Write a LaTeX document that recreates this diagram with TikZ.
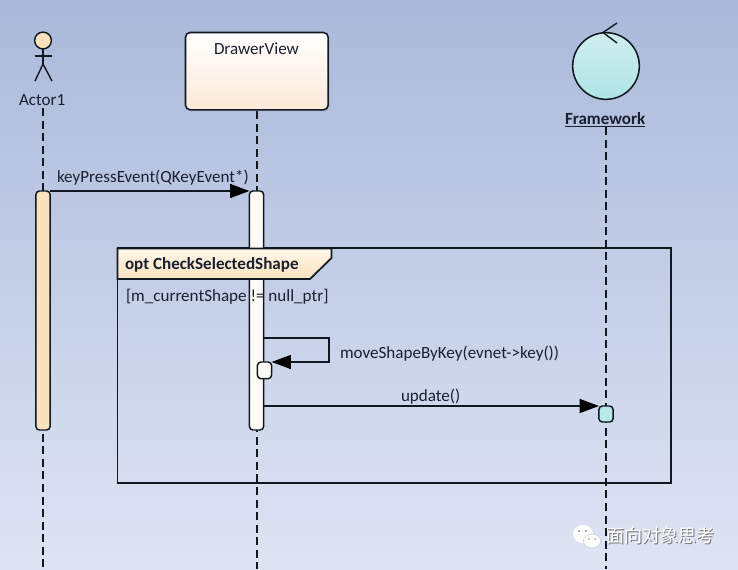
\documentclass[tikz,border=0pt]{standalone}
\usepackage{fontspec}
\setmainfont{Carlito}
\newfontfamily\cjkfont{Noto Sans CJK SC}
\usetikzlibrary{arrows.meta,shadows}
\definecolor{ink}{HTML}{101820}
\definecolor{txt}{HTML}{1A2030}
\definecolor{bgtop}{RGB}{170,185,218}
\definecolor{bgbot}{RGB}{222,228,243}
\definecolor{peach}{RGB}{250,226,190}
\definecolor{peachhi}{RGB}{255,246,232}
\definecolor{barwhite}{RGB}{254,250,245}
\definecolor{viewbot}{RGB}{252,233,218}
\definecolor{cyantop}{RGB}{208,238,240}
\definecolor{cyanbot}{RGB}{174,228,228}
\definecolor{cyanbar}{RGB}{184,232,232}
\tikzset{
  every node/.append style={inner sep=0pt,outer sep=0pt,text=txt},
  lbl/.style={font=\fontsize{12.8pt}{15pt}\selectfont,anchor=base west},
  boldlbl/.style={lbl,font=\fontsize{12.8pt}{15pt}\selectfont\bfseries},
  line/.style={draw=ink,line width=1.05pt},
  lifeline/.style={draw=ink,line width=1pt,dash pattern=on 6pt off 3.4pt},
  msg/.style={draw=ink,line width=1.05pt,-{Triangle[length=14.5pt,width=10.5pt,color=black]}},
  bar/.style={rectangle,rounded corners=2.6pt,draw=ink,line width=1.1pt,minimum width=10.6pt,fill=#1},
}
\begin{document}
\begin{tikzpicture}[x=0.75pt,y=-0.75pt]
\useasboundingbox (0,0) rectangle (738,569);
\shade[top color=bgtop,bottom color=bgbot] (0,0) rectangle (738,569);

% lifelines
\coordinate (aTop) at (43,108);   \coordinate (aEnd) at (43,569);
\coordinate (vTop) at (257,111);  \coordinate (vEnd) at (257,569);
\coordinate (fTop) at (606,127);  \coordinate (fEnd) at (606,569);
\draw[lifeline] (aTop) -- (aEnd);
\draw[lifeline] (vTop) -- (vEnd);
\draw[lifeline] (fTop) -- (fEnd);

% frame
\draw[draw=ink,line width=1.45pt] (117.5,248.3) rectangle (671,483.3);
\node[minimum width=415.5pt,minimum height=176.25pt,anchor=north west] (frame) at (117.5,248.3) {};

% activations
\node[bar=peach,minimum height=179.25pt,anchor=north] (aBar) at (43,191) {};
\node[bar=barwhite,minimum height=179.25pt,anchor=north] (vBar) at (256.5,191) {};

% header
\path[draw=ink,line width=1.3pt,top color=peachhi,bottom color=peach]
  (117.5,248.5) -- (331.5,248.5) -- (331.5,258) -- (310,279) -- (117.5,279) -- cycle;

\node[bar=barwhite,minimum height=12.5pt,anchor=north] (self) at (264.5,362) {};
\node[bar=cyanbar,minimum height=12pt,anchor=north] (fBar) at (606,406) {};

% actor
\node[circle,draw=ink,line width=1.1pt,fill=peach,minimum size=12.6pt] (head) at (43,40.5) {};
\coordinate (hip) at (43,64);
\coordinate (armL) at (35,56); \coordinate (armR) at (52,56);
\coordinate (legL) at (35,81); \coordinate (legR) at (52,81);
\draw[line] (head.south) -- (hip);
\draw[line] (armL) -- (armR);
\draw[line] (legL) -- (hip) -- (legR);
\node[lbl] (actorLbl) at (19,105.2) {Actor1};

% DrawerView
\node[rectangle,rounded corners=3.5pt,draw=ink,line width=1.15pt,minimum width=107pt,minimum height=58pt,anchor=north west,top color=white,bottom color=viewbot,drop shadow={shadow xshift=1.2pt,shadow yshift=-1.2pt,opacity=0.18}] (view) at (185.5,32.5) {};
\node[lbl] (viewLbl) at (214,54.2) {DrawerView};

% Framework
\node[circle,draw=ink,line width=1.15pt,minimum size=50pt,top color=cyantop,bottom color=cyanbot] (ctrl) at (606,66) {};
\coordinate (chevT) at (617,23); \coordinate (chevB) at (617,43); \coordinate (chevTip) at (603,32.5);
\draw[line] (chevT) -- (chevTip) -- (chevB);
\node[boldlbl] (fwLbl) at (565,124.2) {\underline{Framework}};

% messages
\draw[msg] (aBar.north east) -- (vBar.north west);
\node[lbl] (m1) at (57,182.7) {keyPressEvent(QKeyEvent*)};
\coordinate (selfA) at (263.5,338); \coordinate (selfB) at (329,338); \coordinate (selfC) at (329,362);
\draw[msg] (selfA) -- (selfB) -- (selfC) -- (self.north east);
\node[lbl] (m2) at (340,358.2) {moveShapeByKey(evnet->key())};
\coordinate (upA) at (263.5,406);
\draw[msg] (upA) -- (fBar.north west);
\node[lbl] (m3) at (401,401.2) {update()};

% frame text
\node[boldlbl] (optLbl) at (125,269) {opt CheckSelectedShape};
\node[lbl] (guard) at (126,301.2) {[m\_currentShape != null\_ptr]};

% watermark
\fill[white] (583,534) ellipse (10 and 9);
\fill[white,draw=black!25,line width=0.3pt] (592,541) ellipse (8.5 and 7);
\fill[black!45] (579,531) circle (1.1) (586,531) circle (1.1) (589,539) circle (0.9) (595,539) circle (0.9);
\node[lbl,font=\fontsize{13.6pt}{15pt}\cjkfont,text=black!55] (wm2) at (607,543) {面向对象思考};
\node[lbl,font=\fontsize{13.6pt}{15pt}\cjkfont,text=white] (wm) at (606,542) {面向对象思考};
\end{tikzpicture}
\end{document}
